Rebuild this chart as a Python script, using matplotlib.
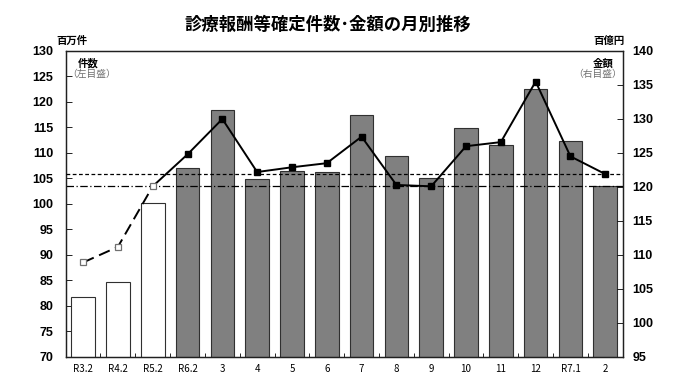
import matplotlib.pyplot as plt
from matplotlib.ticker import FixedLocator

plt.rcParams["font.family"] = ["Liberation Sans", "Noto Sans CJK JP", "DejaVu Sans"]
JP = ["Noto Sans CJK JP", "DejaVu Sans"]

# monthly data
months = ["R3.2", "R4.2", "R5.2", "R6.2", "3", "4", "5", "6", "7", "8",
          "9", "10", "11", "12", "R7.1", "2"]
counts = [81.8, 84.8, 100.1, 107.1, 118.4, 104.9, 106.5, 106.3, 117.5, 109.4,
          105.0, 114.9, 111.6, 122.5, 112.4, 103.5]       # 百万件 (left)
amounts = [108.9, 111.2, 120.1, 124.8, 130.0, 122.2, 122.9, 123.5, 127.4, 120.3,
           120.1, 126.0, 126.6, 135.5, 124.5, 121.9]      # 百億円 (right)
n_past = 3  # previous-year points (open bars / open markers)

fig = plt.figure(figsize=(6.8, 3.88), dpi=100)
ax = fig.add_axes([0.0966, 0.0799, 0.8191, 0.7887])
ax2 = ax.twinx()

x = list(range(len(months)))
colors = ["white"] * n_past + ["#808080"] * (len(months) - n_past)
ax.bar(x, counts, width=0.68, color=colors, edgecolor="#303030", linewidth=0.8, zorder=2)

# reference lines at the latest month's values
ax.axhline(counts[-1], color="black", lw=0.9, ls=(0, (6, 2, 1, 2)), zorder=3)
ax2.axhline(amounts[-1], color="black", lw=0.9, ls=(0, (3, 2)), zorder=3)

# amount line: dashed for past years, solid afterwards
ax2.plot(x[:n_past], amounts[:n_past], color="black", lw=1.4, ls=(0, (6, 3)), zorder=4)
ax2.plot(x[n_past - 1:], amounts[n_past - 1:], color="black", lw=1.4, zorder=4)
ax2.plot(x[:n_past], amounts[:n_past], ls="none", marker="s", ms=5,
         mfc="white", mec="#707070", mew=0.9, zorder=5)
ax2.plot(x[n_past:], amounts[n_past:], ls="none", marker="s", ms=5,
         mfc="black", mec="black", zorder=5)

ax.set_xlim(-0.5, len(months) - 0.5)
ax.set_ylim(70, 130)
ax2.set_ylim(95, 140)
ax.set_yticks(range(70, 131, 5))
ax2.set_yticks(range(95, 141, 5))

ax.set_xticks(x)
ax.set_xticklabels(months, family=JP, fontsize=7)
ax.xaxis.set_minor_locator(FixedLocator([i + 0.5 for i in x[:-1]]))
ax.tick_params(axis="x", which="major", length=0, pad=5)
ax.tick_params(axis="x", which="minor", direction="in", length=3, width=0.6)
ax.tick_params(axis="y", direction="in", length=4, width=0.6, pad=9, labelsize=9)
ax2.tick_params(axis="y", direction="in", length=4, width=0.6, pad=7, labelsize=9)
for lab in ax.get_yticklabels() + ax2.get_yticklabels():
    lab.set_fontweight("bold")

for a in (ax, ax2):
    for s in a.spines.values():
        s.set_linewidth(0.9)
        s.set_color("#202020")

# titles and unit labels
fig.text(0.482, 0.936, "診療報酬等確定件数･金額の月別推移", family=JP, fontsize=12.5,
         fontweight="bold", ha="center", va="center")
fig.text(0.083, 0.895, "百万件", family=JP, fontsize=7.5, fontweight="bold",
         ha="left", va="center")
fig.text(0.919, 0.895, "百億円", family=JP, fontsize=7.5, fontweight="bold",
         ha="right", va="center")
ax.text(0.04, 0.975, "件数", family=JP, fontsize=7.5, fontweight="bold",
        transform=ax.transAxes, ha="center", va="top")
ax.text(0.002, 0.94, "（左目盛）", family=JP, fontsize=7, color="#707070",
        transform=ax.transAxes, ha="left", va="top")
ax.text(0.965, 0.975, "金額", family=JP, fontsize=7.5, fontweight="bold",
        transform=ax.transAxes, ha="center", va="top")
ax.text(0.998, 0.94, "（右目盛）", family=JP, fontsize=7, color="#707070",
        transform=ax.transAxes, ha="right", va="top")

fig.savefig("out.png", dpi=100)
